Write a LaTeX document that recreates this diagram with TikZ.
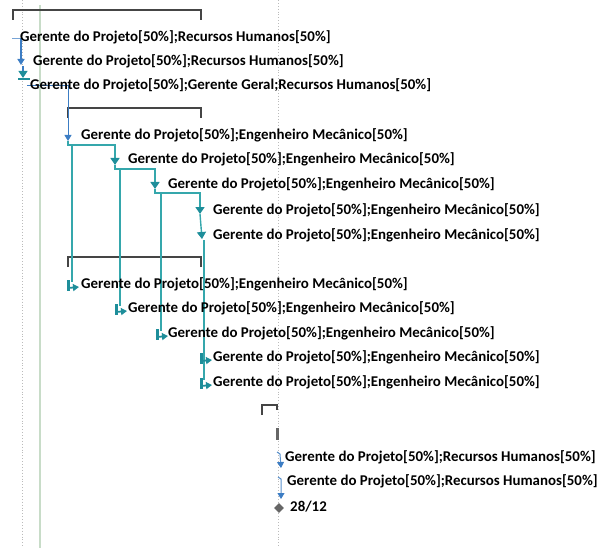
\documentclass[tikz,border=0pt]{standalone}
\usepackage{fontspec}
\setmainfont{Carlito}
\usetikzlibrary{arrows.meta,shapes.geometric,calc}
\definecolor{tealc}{HTML}{35A7AC}
\definecolor{tealm}{HTML}{1E8E9A}
\definecolor{bluec}{HTML}{3C7DC4}
\definecolor{brk}{HTML}{454545}
\definecolor{gridg}{HTML}{BBBBBB}
\definecolor{greenl}{HTML}{C8DCC8}
\begin{document}
\begin{tikzpicture}[x=1pt,y=-1pt,
  lbl/.style={anchor=base west, inner sep=0pt, font=\bfseries\fontsize{14.9}{16}\selectfont},
  summ/.style={brk, line width=2pt},
  conn/.style={tealc, line width=1.4pt},
  tip/.style={-{Triangle[length=7pt,width=9pt,color=tealm]}},
  btip/.style={-{Triangle[length=6pt,width=7pt,color=bluec]}},
  startmark/.pic={
    \draw[tealm,line width=3pt] (0,-6) -- (0,5);
    \draw[tealm,line width=1.8pt,-{Triangle[length=6pt,width=7pt]}] (0,2) -- (11,1);}
]
\useasboundingbox (0,0) rectangle (599,548);
% grid lines
\draw[gridg, dotted, line width=0.9pt] (22,0) -- (22,548);
\draw[gridg, dotted, line width=0.9pt] (278,0) -- (278,548);
\draw[greenl, line width=1.6pt] (40,5) -- (40,548);

% summary brackets
\draw[summ] (13,20) |- (201,10) -- (201,20);
\draw[summ] (68,118) |- (201,108) -- (201,118);
\draw[summ] (68,267) |- (201,257) -- (201,267);
\draw[summ] (262,415) |- (277,405) -- (277,410);
\fill[gray!80!black] (275.5,428) rectangle (279,440);

% coordinates of markers
\coordinate (c1) at (21,38);
\coordinate (m2) at (21,65);
\coordinate (c2) at (23,66);
\coordinate (m3) at (23,78);
\coordinate (c3) at (27,86);
\coordinate (m4) at (68,141);
\coordinate (m5) at (115,165);
\coordinate (m6) at (155,189);
\coordinate (m7) at (200,214);
\coordinate (m8) at (202,239);
\coordinate (v4) at (72,145);
\coordinate (v5) at (120,170);
\coordinate (v6) at (161,194);
\coordinate (v8) at (204,240);
\coordinate (m9) at (68,286);
\coordinate (m10) at (116,310);
\coordinate (m11) at (157,335);
\coordinate (m12) at (201,359);
\coordinate (m13) at (201,384);

% top-left blue connectors
\draw[bluec!70, line width=0.8pt] (12,38) -- (c1);
\draw[bluec, line width=1.5pt, btip] (c1) -- (m2);
\draw[bluec, line width=1.2pt, tip] (c2) -- (m3);
\draw[tealm, line width=2pt] (18,79) -- (30,79);
\draw[bluec, line width=1pt, btip] (c3) -| (m4);

% teal connectors
\draw[conn, tip] (m4) -- ++(0,4) -| (m5);
\draw[conn, tip] (m5) -- ++(0,4) -| (m6);
\draw[conn, tip] (m6) -- ++(0,4) -| (m7);
\draw[conn, tip] (m7) -- (m8);
\draw[conn] (v4) -- ($(m9)+(4,-4)$);
\draw[conn] (v5) -- ($(m10)+(4,-4)$);
\draw[conn] (v6) -- ($(m11)+(4,-4)$);
\draw[conn] (v8) -- ($(m13)+(3,-4)$);

% start markers
\pic at (m9) {startmark};
\pic at (m10) {startmark};
\pic at (m11) {startmark};
\pic at (m12) {startmark};
\pic at (m13) {startmark};

% bottom connectors
\coordinate (b1) at (277,452);
\coordinate (mb1) at (281,468);
\coordinate (b2) at (278,477);
\coordinate (mb2) at (281,499);
\draw[bluec!85, line width=1pt, btip] (b1) -- ++(3,2) -- (mb1);
\draw[bluec!85, line width=1pt, btip] (b2) -- ++(3,2) -- (mb2);
\node[diamond, fill=gray!80!black, minimum size=10pt, inner sep=0pt] (ms) at (279,508) {};

% labels
\node[lbl] (t1) at (20,42) {Gerente do Projeto[50\%];Recursos Humanos[50\%]};
\node[lbl] (t2) at (33,66) {Gerente do Projeto[50\%];Recursos Humanos[50\%]};
\node[lbl] (t3) at (30,90) {Gerente do Projeto[50\%];Gerente Geral;Recursos Humanos[50\%]};
\node[lbl] (t4) at (81,140) {Gerente do Projeto[50\%];Engenheiro Mecânico[50\%]};
\node[lbl] (t5) at (128,164) {Gerente do Projeto[50\%];Engenheiro Mecânico[50\%]};
\node[lbl] (t6) at (168,188) {Gerente do Projeto[50\%];Engenheiro Mecânico[50\%]};
\node[lbl] (t7) at (213,214) {Gerente do Projeto[50\%];Engenheiro Mecânico[50\%]};
\node[lbl] (t8) at (213,239) {Gerente do Projeto[50\%];Engenheiro Mecânico[50\%]};
\node[lbl] (t9) at (81,288) {Gerente do Projeto[50\%];Engenheiro Mecânico[50\%]};
\node[lbl] (t10) at (128,312) {Gerente do Projeto[50\%];Engenheiro Mecânico[50\%]};
\node[lbl] (t11) at (168,337) {Gerente do Projeto[50\%];Engenheiro Mecânico[50\%]};
\node[lbl] (t12) at (213,361) {Gerente do Projeto[50\%];Engenheiro Mecânico[50\%]};
\node[lbl] (t13) at (213,386) {Gerente do Projeto[50\%];Engenheiro Mecânico[50\%]};
\node[lbl] (t14) at (285,461) {Gerente do Projeto[50\%];Recursos Humanos[50\%]};
\node[lbl] (t15) at (287,485) {Gerente do Projeto[50\%];Recursos Humanos[50\%]};
\node[lbl] (t16) at (290,511) {28/12};
\end{tikzpicture}
\end{document}
